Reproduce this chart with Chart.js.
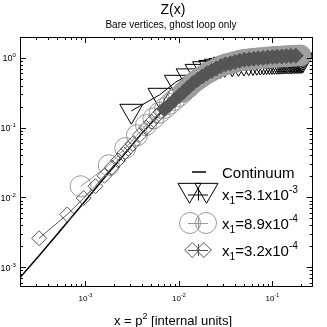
<!DOCTYPE html>
<html>
<head>
<meta charset="utf-8">
<script src="https://cdn.jsdelivr.net/npm/chart.js@4.4.0/dist/chart.umd.min.js"></script>
<style>
  html, body { margin: 0; padding: 0; background: #fff; }
  #wrap { width: 327px; height: 327px; }
</style>
</head>
<body>
<div id="wrap"><canvas id="zchart" width="327" height="327"></canvas></div>
<script>
// continuum curve
const contX = [2e-4, 3.16e-4, 5e-4, 1e-3, 1.58e-3, 2.51e-3, 3.98e-3, 6.31e-3, 0.01, 0.0158, 0.0251, 0.0398, 0.0631, 0.1, 0.158, 0.27];
const contZ = [7.1e-4, 1.44e-3, 2.97e-3, 9.0e-3, 0.0188, 0.039, 0.082, 0.16, 0.28, 0.48, 0.70, 0.87, 0.97, 1.03, 1.07, 1.1];

// x1 = 3.1e-3 (triangles)
const triX = [3.1e-3, 6.2e-3, 9.3e-3, 0.0124, 0.0155, 0.0186, 0.0217, 0.0248, 0.0279, 0.031, 0.0372, 0.0434, 0.0496, 0.0558, 0.062, 0.0682, 0.0744, 0.0806, 0.0868, 0.093, 0.0992, 0.1054, 0.1116, 0.1178, 0.124, 0.1302, 0.1364, 0.1426, 0.1488, 0.155, 0.1612, 0.1674, 0.1736, 0.1798, 0.186, 0.1922, 0.1984, 0.2046, 0.2108];
const triZ = [0.174, 0.295, 0.453, 0.56, 0.65, 0.71, 0.74, 0.77, 0.79, 0.82, 0.835, 0.845, 0.855, 0.865, 0.872, 0.878, 0.884, 0.889, 0.893, 0.897, 0.9, 0.903, 0.906, 0.909, 0.911, 0.913, 0.915, 0.917, 0.919, 0.921, 0.923, 0.925, 0.927, 0.929, 0.931, 0.933, 0.935, 0.937, 0.94];

// x1 = 8.9e-4 (circles)
const circX = [8.9e-4, 1.78e-3, 2.67e-3, 3.56e-3, 4.45e-3, 5.34e-3, 6.23e-3, 7.12e-3, 8.01e-3, 8.9e-3, 0.01, 0.0112, 0.0126, 0.0141, 0.0158, 0.0178, 0.02, 0.0224, 0.0251, 0.0282, 0.0316, 0.0355, 0.0398, 0.0447, 0.0501, 0.0562, 0.0631, 0.0708, 0.0794, 0.0891, 0.1, 0.112, 0.126, 0.141, 0.158, 0.178, 0.2];
const circZ = [0.0145, 0.029, 0.051, 0.078, 0.109, 0.136, 0.165, 0.192, 0.22, 0.25, 0.284, 0.327, 0.376, 0.434, 0.486, 0.543, 0.604, 0.653, 0.705, 0.765, 0.81, 0.84, 0.877, 0.914, 0.942, 0.958, 0.974, 0.99, 1.0, 1.02, 1.03, 1.04, 1.05, 1.06, 1.07, 1.08, 1.086];

// x1 = 3.2e-4 (diamonds)
const diaX = [3.2e-4, 6.4e-4, 9.6e-4, 1.28e-3, 1.6e-3, 1.92e-3, 2.24e-3, 2.56e-3, 2.88e-3, 3.2e-3, 3.84e-3, 4.48e-3, 5.12e-3, 5.76e-3, 6.4e-3, 7.08e-3, 7.94e-3, 8.91e-3, 0.01, 0.0112, 0.0126, 0.0141, 0.0158, 0.0178, 0.02, 0.0224, 0.0251, 0.0282, 0.0316, 0.0355, 0.0398, 0.0447, 0.0501, 0.0562, 0.0631, 0.0708, 0.0794, 0.0891, 0.1, 0.112, 0.126, 0.141, 0.158, 0.178];
const diaZ = [0.0026, 0.0057, 0.0098, 0.0145, 0.0205, 0.027, 0.034, 0.042, 0.050, 0.059, 0.079, 0.10, 0.122, 0.145, 0.168, 0.185, 0.214, 0.246, 0.284, 0.327, 0.376, 0.434, 0.486, 0.543, 0.604, 0.653, 0.705, 0.765, 0.81, 0.84, 0.877, 0.914, 0.942, 0.958, 0.974, 0.99, 1.0, 1.02, 1.03, 1.04, 1.05, 1.06, 1.07, 1.08];

const xTicks = [1e-3, 1e-2, 1e-1];
const xTickLabels = ['10^{-3}', '10^{-2}', '10^{-1}'];
const yTicks = [1e-3, 1e-2, 1e-1, 1];
const yTickLabels = ['10^{-3}', '10^{-2}', '10^{-1}', '10^{0}'];
const legendLabels = ['Continuum', 'x_{1}=3.1x10^{-3}', 'x_{1}=8.9x10^{-4}', 'x_{1}=3.2x10^{-4}'];

const FONT = '"Liberation Sans", Arial, Helvetica, sans-serif';

function pts(xs, ys) {
  return xs.map((x, i) => ({ x: x, y: ys[i] }));
}

function drawRich(ctx, text, x, y, size, align) {
  const parts = [];
  const re = /([_^])\{([^}]*)\}|([^_^]+)/g;
  let m;
  while ((m = re.exec(text))) {
    if (m[3]) parts.push({ t: m[3], s: size, dy: 0 });
    else parts.push({ t: m[2], s: size * 0.68, dy: m[1] === '^' ? -size * 0.45 : size * 0.28 });
  }
  let w = 0;
  parts.forEach(p => {
    ctx.font = p.s + 'px ' + FONT;
    p.w = ctx.measureText(p.t).width;
    w += p.w;
  });
  let cx = align === 'center' ? x - w / 2 : (align === 'right' ? x - w : x);
  ctx.textAlign = 'left';
  ctx.textBaseline = 'alphabetic';
  parts.forEach(p => {
    ctx.font = p.s + 'px ' + FONT;
    ctx.fillText(p.t, cx, y + p.dy);
    cx += p.w;
  });
}

function marker(ctx, style, radius, rotation, x, y) {
  if (Chart.helpers && Chart.helpers.drawPoint) {
    Chart.helpers.drawPoint(ctx, { pointStyle: style, radius: radius, rotation: rotation, borderWidth: 1 }, x, y);
  }
}

const frame = {
  id: 'frame',
  afterDraw(chart) {
    const ctx = chart.ctx;
    const a = chart.chartArea;
    const xs = chart.scales.x, ys = chart.scales.y;
    ctx.save();
    ctx.fillStyle = '#000';
    ctx.strokeStyle = '#000';
    ctx.lineWidth = 1;

    // box
    ctx.strokeRect(Math.round(a.left) + 0.5, Math.round(a.top) + 0.5, Math.round(a.right - a.left) - 1, Math.round(a.bottom - a.top) - 1);

    // ticks, all four sides, inside
    ctx.beginPath();
    for (let k = -4; k <= 0; k++) {
      for (let m = 1; m <= 9; m++) {
        const v = m * Math.pow(10, k);
        const len = m === 1 ? 6 : 3;
        if (v > xs.min && v < xs.max) {
          const px = Math.round(xs.getPixelForValue(v)) + 0.5;
          ctx.moveTo(px, a.bottom); ctx.lineTo(px, a.bottom - len);
          ctx.moveTo(px, a.top); ctx.lineTo(px, a.top + len);
        }
        if (v > ys.min && v < ys.max) {
          const py = Math.round(ys.getPixelForValue(v)) + 0.5;
          ctx.moveTo(a.left, py); ctx.lineTo(a.left + len, py);
          ctx.moveTo(a.right, py); ctx.lineTo(a.right - len, py);
        }
      }
    }
    ctx.stroke();

    // tick labels
    xTicks.forEach((v, i) => {
      drawRich(ctx, xTickLabels[i], xs.getPixelForValue(v), a.bottom + 14, 8, 'center');
    });
    yTicks.forEach((v, i) => {
      drawRich(ctx, yTickLabels[i], 16, ys.getPixelForValue(v) + 3.5, 9, 'right');
    });

    // titles
    drawRich(ctx, 'Z(x)', 173, 13.5, 14, 'center');
    drawRich(ctx, 'Bare vertices, ghost loop only', 171, 28, 10, 'center');
    drawRich(ctx, 'x = p^{2} [internal units]', 173, 325, 13, 'center');

    // legend
    const lx = 198, tx = 222;
    ctx.lineWidth = 1.5;
    ctx.beginPath();
    ctx.moveTo(192, 172); ctx.lineTo(206, 172);
    ctx.stroke();
    ctx.fillStyle = '#000';
    drawRich(ctx, legendLabels[0], tx, 177.5, 15, 'left');

    const rows = [
      { ds: chart.data.datasets[3], y: 194.5, my: 190, d: 8.5 },
      { ds: chart.data.datasets[1], y: 223, my: 223, d: 8 },
      { ds: chart.data.datasets[0], y: 250, my: 250, d: 5.8 }
    ];
    rows.forEach((r, i) => {
      const col = r.ds.borderColor;
      ctx.strokeStyle = col;
      ctx.lineWidth = 1;
      ctx.fillStyle = 'rgba(0,0,0,0)';
      marker(ctx, r.ds.pointStyle, r.ds.pointRadius, r.ds.pointRotation || 0, lx - r.d, r.my);
      marker(ctx, r.ds.pointStyle, r.ds.pointRadius, r.ds.pointRotation || 0, lx + r.d, r.my);
      ctx.beginPath();
      ctx.moveTo(lx - 10, r.y + 0.5); ctx.lineTo(lx + 10, r.y + 0.5);
      ctx.moveTo(lx + 0.5, r.y - 6); ctx.lineTo(lx + 0.5, r.y + 6);
      ctx.stroke();
      ctx.fillStyle = '#000';
      drawRich(ctx, legendLabels[i + 1], tx, r.y + 5.5, 15, 'left');
    });
    ctx.restore();
  }
};

new Chart(document.getElementById('zchart'), {
  type: 'scatter',
  data: {
    datasets: [
      {
        label: 'x1=3.2e-4',
        data: pts(diaX, diaZ),
        showLine: true,
        borderColor: '#555',
        borderWidth: 1,
        pointStyle: 'rectRot',
        pointRadius: 7.5,
        pointBorderWidth: 1,
        pointBorderColor: '#555',
        pointBackgroundColor: c => (c.raw && c.raw.x > 7e-3) ? '#555' : 'rgba(0,0,0,0)',
        clip: 0
      },
      {
        label: 'x1=8.9e-4',
        data: pts(circX, circZ),
        showLine: true,
        borderColor: '#999',
        borderWidth: 1,
        pointStyle: 'circle',
        pointRadius: 10.5,
        pointBorderWidth: 1,
        pointBorderColor: '#999',
        pointBackgroundColor: c => (c.raw && c.raw.x > 1.05e-2) ? '#a0a0a0' : 'rgba(0,0,0,0)',
        clip: 0
      },
      {
        label: 'Continuum',
        data: pts(contX, contZ),
        showLine: true,
        borderColor: '#000',
        borderWidth: 1.5,
        pointRadius: 0,
        clip: 0
      },
      {
        label: 'x1=3.1e-3',
        data: pts(triX, triZ),
        showLine: true,
        borderColor: '#000',
        borderWidth: 1,
        pointStyle: 'triangle',
        pointRotation: 180,
        pointRadius: 13.3,
        pointBorderWidth: 1,
        pointBorderColor: '#000',
        pointBackgroundColor: 'rgba(0,0,0,0)',
        clip: 0
      }
    ]
  },
  options: {
    responsive: false,
    animation: false,
    events: [],
    layout: { padding: { left: 20, right: 4, top: 37, bottom: 40 } },
    scales: {
      x: { type: 'logarithmic', min: 2e-4, max: 0.27, display: false },
      y: { type: 'logarithmic', min: 5.2e-4, max: 2, display: false }
    },
    plugins: {
      legend: { display: false },
      tooltip: { enabled: false }
    }
  },
  plugins: [frame]
});
</script>
</body>
</html>
